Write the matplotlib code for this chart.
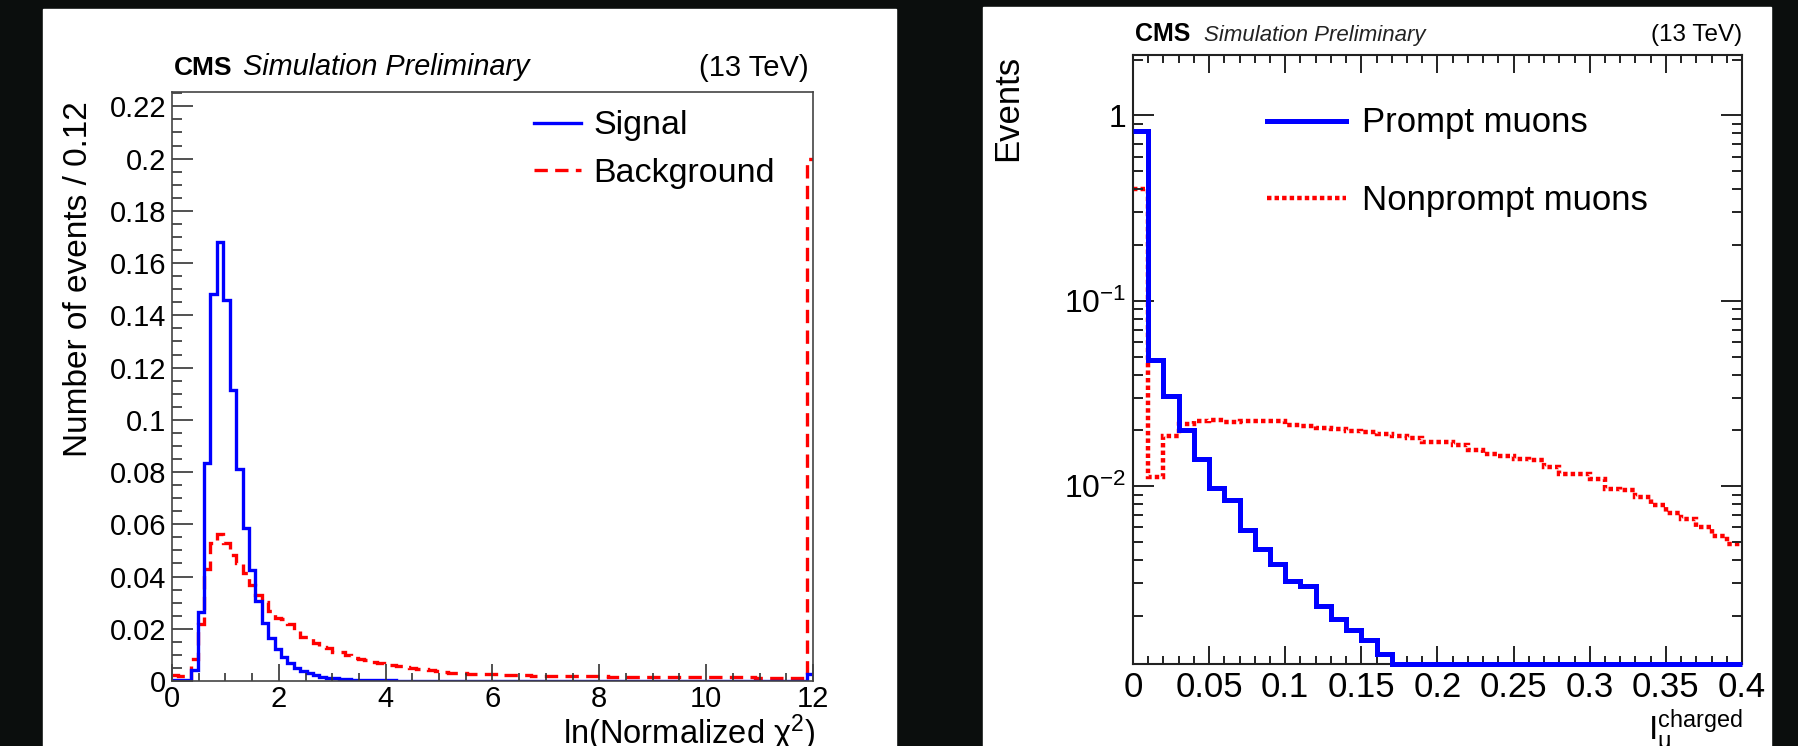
import numpy as np
import matplotlib
matplotlib.use("Agg")
import matplotlib.pyplot as plt
from matplotlib.lines import Line2D
from matplotlib.patches import Rectangle
from matplotlib.ticker import MultipleLocator, FixedLocator, LogLocator, NullFormatter, FuncFormatter

plt.rcParams["font.family"] = ["Liberation Sans", "DejaVu Sans"]
plt.rcParams["mathtext.fontset"] = "custom"
plt.rcParams["mathtext.rm"] = "Liberation Sans"
plt.rcParams["mathtext.it"] = "Liberation Sans:italic"
plt.rcParams["mathtext.bf"] = "Liberation Sans:bold"

# left: ln(normalized chi2), 100 bins of 0.12 from 0 to 12
chi2_edges = np.linspace(0, 12, 101)
signal = [
    0.0003, 0.0003, 0.0005, 0.0042, 0.0265, 0.0836, 0.148, 0.168, 0.1458, 0.1113,
    0.0811, 0.0585, 0.0424, 0.0307, 0.0223, 0.0166, 0.0121, 0.0092, 0.0069, 0.0051,
    0.0038, 0.0029, 0.0023, 0.0017, 0.0013, 0.0010, 0.0008, 0.0006, 0.0005, 0.0004,
    0.0003, 0.0003, 0.0002, 0.0002, 0.0002, 0.0001, 0.0001, 0.0001, 0.0001, 0.0001,
] + [0.0] * 59 + [0.0025]
background = [
    0.0022, 0.0020, 0.0012, 0.0083, 0.0217, 0.0427, 0.0529, 0.0561, 0.0529, 0.0482,
    0.0450, 0.0414, 0.0369, 0.0331, 0.0303, 0.0268, 0.0242, 0.0238, 0.0217, 0.0197,
    0.0169, 0.0169, 0.0146, 0.0130, 0.0127, 0.0111, 0.0111, 0.0098, 0.0089, 0.0085,
    0.0079, 0.0073, 0.0068, 0.0064, 0.0060, 0.0057, 0.0054, 0.0051, 0.0047, 0.0045,
    0.0041, 0.0038, 0.0036, 0.0032, 0.0031, 0.0029, 0.0028, 0.0027, 0.0026, 0.0025,
    0.0025, 0.0024, 0.0023, 0.0023, 0.0022, 0.0022, 0.0021, 0.0021, 0.0020, 0.0020,
    0.0020, 0.0019, 0.0019, 0.0019, 0.0018, 0.0018, 0.0018, 0.0018, 0.0017, 0.0017,
    0.0017, 0.0017, 0.0016, 0.0016, 0.0016, 0.0016, 0.0016, 0.0015, 0.0015, 0.0015,
    0.0015, 0.0015, 0.0015, 0.0015, 0.0014, 0.0014, 0.0014, 0.0014, 0.0014, 0.0014,
    0.0014, 0.0013, 0.0013, 0.0013, 0.0013, 0.0013, 0.0013, 0.0013, 0.0013, 0.200,
]

# right: charged isolation, 40 bins of 0.01 from 0 to 0.4
iso_edges = np.linspace(0, 0.4, 41)
prompt = [
    0.83, 0.0478, 0.0305, 0.0202, 0.0140, 0.0098, 0.0084, 0.0058, 0.0046, 0.0038,
    0.0031, 0.0029, 0.00226, 0.00192, 0.00168, 0.00148, 0.00124,
] + [0.0] * 23
nonprompt = [
    0.40, 0.0112, 0.0187, 0.0218, 0.0225, 0.0227, 0.0222, 0.0225, 0.0225, 0.0225,
    0.0215, 0.0211, 0.0207, 0.0204, 0.0199, 0.0196, 0.0191, 0.0186, 0.0182, 0.0173,
    0.0173, 0.0167, 0.0157, 0.0150, 0.0145, 0.0141, 0.0138, 0.0127, 0.0117, 0.0116,
    0.0109, 0.0097, 0.0095, 0.0088, 0.0079, 0.0072, 0.0067, 0.0060, 0.0054, 0.0049,
]

W, H = 1799, 746
BLUE = "#0000ff"
RED = "#ff0000"


def fx(x):
    return x / W


def fy(y):
    return 1 - y / H


def box(x0, y0, x1, y1):
    return [fx(x0), fy(y1), (x1 - x0) / W, (y1 - y0) / H]


fig = plt.figure(figsize=(W / 100, H / 100), dpi=100, facecolor="#0b0e0d")

# white pads
for x0, y0, x1, y1 in [(43, 9, 896, 746), (983, 7, 1771, 746)]:
    fig.add_artist(Rectangle((fx(x0), fy(y1)), (x1 - x0) / W, (y1 - y0) / H,
                             transform=fig.transFigure, color="white", zorder=-5))

gfmt = FuncFormatter(lambda v, p: "%g" % round(v, 6))

# ---------------- left panel ----------------
ax1 = fig.add_axes(box(172, 92, 813, 681))
ax1.stairs(background, chi2_edges, baseline=None, color=RED, lw=2.4,
           linestyle=(0, (4, 2.2)))
ax1.stairs(signal, chi2_edges, baseline=None, color=BLUE, lw=2.4)
ax1.set_xlim(0, 12)
ax1.set_ylim(0, 0.2255)
ax1.xaxis.set_major_locator(MultipleLocator(2))
ax1.xaxis.set_minor_locator(MultipleLocator(0.5))
ax1.yaxis.set_major_locator(MultipleLocator(0.02))
ax1.yaxis.set_minor_locator(MultipleLocator(0.005))
ax1.xaxis.set_major_formatter(gfmt)
ax1.yaxis.set_major_formatter(gfmt)
ax1.tick_params(which="both", direction="in", color="#333333", width=1.2,
                labelsize=21, top=False, right=False)
ax1.tick_params(axis="y", which="major", length=15, pad=4)
ax1.tick_params(axis="y", which="minor", length=7)
ax1.tick_params(axis="x", which="major", length=12, pad=3)
ax1.tick_params(axis="x", which="minor", length=6)
for s in ax1.spines.values():
    s.set_color("#444444")
    s.set_linewidth(1.2)

fig.text(fx(174), fy(75), "CMS", fontsize=19, fontweight="bold", va="baseline")
fig.text(fx(243), fy(75), "Simulation Preliminary", fontsize=20.8, style="italic",
         va="baseline")
fig.text(fx(809), fy(76), "(13 TeV)", fontsize=21, ha="right", va="baseline")
fig.text(fx(79), fy(101), "Number of events / 0.12", fontsize=24, rotation=90,
         ha="center", va="top")
fig.text(fx(815), fy(744), r"ln(Normalized χ$^{\mathregular{2}}$)", fontsize=23.5,
         ha="right", va="baseline")

# legend
fig.add_artist(Line2D([fx(534), fx(581)], [fy(123), fy(123)], color=BLUE, lw=2.4))
fig.add_artist(Line2D([fx(534), fx(581)], [fy(170), fy(170)], color=RED, lw=2.4,
                      linestyle=(0, (4, 2.2))))
fig.text(fx(593), fy(134), "Signal", fontsize=24.5, va="baseline")
fig.text(fx(593), fy(182), "Background", fontsize=24.5, va="baseline")

# ---------------- right panel ----------------
ymin, ymax = 1.1e-3, 2.12
ax2 = fig.add_axes(box(1133, 55, 1742, 664))
ax2.set_yscale("log")
ax2.stairs(nonprompt, iso_edges, baseline=None, color=RED, lw=3.2,
           linestyle=(0, (1.0, 0.7)))
ax2.stairs(np.maximum(prompt, ymin), iso_edges, baseline=None, color=BLUE, lw=3.6,
           clip_on=False, zorder=3)
ax2.set_xlim(0, 0.4)
ax2.set_ylim(ymin, ymax)
ax2.xaxis.set_major_locator(MultipleLocator(0.05))
ax2.xaxis.set_minor_locator(MultipleLocator(0.01))
ax2.xaxis.set_major_formatter(gfmt)
ax2.yaxis.set_major_locator(FixedLocator([1e-2, 1e-1, 1]))
ax2.yaxis.set_major_formatter(FuncFormatter(
    lambda v, p: "1" if v >= 1 else r"$\mathregular{10^{%d}}$" % round(np.log10(v))))
ax2.yaxis.set_minor_locator(LogLocator(base=10, subs=np.arange(2, 10), numticks=20))
ax2.yaxis.set_minor_formatter(NullFormatter())
ax2.tick_params(which="both", direction="in", color="#222222", width=1.4,
                top=True, right=True)
ax2.tick_params(axis="x", which="major", length=13, pad=5, labelsize=25)
ax2.tick_params(axis="x", which="minor", length=6)
ax2.tick_params(axis="y", which="major", length=15, pad=5, labelsize=23)
ax2.tick_params(axis="y", which="minor", length=7)
for s in ax2.spines.values():
    s.set_color("#222222")
    s.set_linewidth(1.5)

fig.text(fx(1135), fy(41), "CMS", fontsize=18, fontweight="bold", va="baseline")
fig.text(fx(1204), fy(41), "Simulation Preliminary", fontsize=16, style="italic",
         va="baseline", color="#222222")
fig.text(fx(1742), fy(41), "(13 TeV)", fontsize=17.5, ha="right", va="baseline")
fig.text(fx(1008), fy(55), "Events", fontsize=25, rotation=90, ha="center", va="top")
fig.text(fx(1742), fy(707), r"$\mathregular{I_{\mu}^{charged}}$", fontsize=24,
         ha="right", va="top")

fig.add_artist(Line2D([fx(1267), fx(1346)], [fy(121), fy(121)], color=BLUE, lw=3.6))
fig.add_artist(Line2D([fx(1267), fx(1346)], [fy(198), fy(198)], color=RED, lw=3.2,
                      linestyle=(0, (1.0, 0.7))))
fig.text(fx(1362), fy(132), "Prompt muons", fontsize=25, va="baseline")
fig.text(fx(1362), fy(210), "Nonprompt muons", fontsize=25, va="baseline")

fig.savefig("out.png", dpi=100, facecolor=fig.get_facecolor())
